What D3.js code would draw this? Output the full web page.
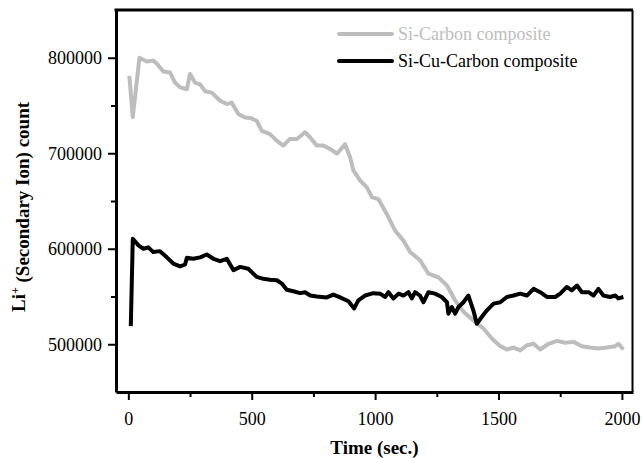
<!DOCTYPE html>
<html>
<head>
<meta charset="utf-8">
<script src="https://d3js.org/d3.v7.min.js"></script>
<style>
  body { margin: 0; background: #fff; }
  svg text { font-family: "Liberation Serif", "Times New Roman", serif; }
  .axis text { font-size: 18px; fill: #000; }
  .axis line, .axis path { stroke: #000; }
</style>
</head>
<body>
<script>
// Si-Carbon composite (grey)
var siCTime = [4, 18, 45, 75, 101, 115, 142, 169, 189, 210, 237, 250, 270, 291, 311, 338, 372, 399, 419, 446, 473, 493,
  520, 541, 574, 602, 628, 655, 683, 716, 737, 764, 790, 818, 845, 878, 899, 912, 939, 966, 987, 1013,
  1047, 1081, 1115, 1142, 1182, 1216, 1257, 1291, 1324, 1358, 1398, 1439, 1473, 1507, 1534, 1561, 1588, 1615,
  1642, 1669, 1703, 1737, 1770, 1804, 1838, 1871, 1905, 1939, 1973, 1986, 2006];
var siCCount = [781000, 738000, 800000, 796000, 797000, 794000, 785500, 784500, 774000, 769000, 767000, 783000, 774000, 772000, 765000, 763500, 755000, 751500, 753000, 741000, 737500, 737000,
  734000, 723500, 720000, 713000, 708000, 715000, 715000, 722000, 716500, 708000, 708000, 704500, 699500, 709500, 695500, 682000, 671500, 664500, 654000, 652000,
  636500, 619000, 608500, 596500, 588000, 574000, 570000, 561500, 546000, 534000, 525000, 516500, 506000, 498000, 494500, 496500, 493500, 499000,
  500500, 494500, 500500, 503500, 501500, 502500, 498000, 496500, 495500, 496500, 498000, 500500, 494500];

// Si-Cu-Carbon composite (black)
var siCuTime = [10, 18, 41, 61, 81, 101, 128, 156, 182, 210, 230, 237, 263, 291, 318, 345, 372, 399, 426, 453, 486,
  520, 547, 574, 602, 622, 642, 669, 696, 716, 737, 764, 804, 831, 858, 892, 915, 932, 959, 993, 1020,
  1041, 1054, 1074, 1095, 1115, 1135, 1149, 1162, 1182, 1196, 1216, 1243, 1270, 1291, 1297, 1311, 1324, 1338, 1358, 1378,
  1398, 1412, 1432, 1453, 1480, 1507, 1534, 1561, 1588, 1615, 1642, 1669, 1696, 1730, 1750, 1777, 1797, 1818,
  1838, 1865, 1885, 1905, 1925, 1952, 1973, 1986, 2006];
var siCuCount = [519000, 610500, 603500, 600000, 601500, 596500, 597500, 591000, 584500, 581500, 583500, 590500, 589500, 591000, 594000, 589500, 587000, 589500, 577500, 581000, 579000,
  570500, 568500, 567500, 567000, 563500, 557000, 555500, 553500, 554500, 551000, 550000, 549000, 552000, 549000, 545000, 537500, 546000, 551000, 553500, 553000,
  549500, 554500, 548000, 553000, 551000, 554500, 548000, 554500, 551000, 544000, 554500, 553000, 549500, 544000, 532000, 539000, 532000, 539000, 544000, 551000,
  535500, 521500, 528500, 535500, 542500, 544000, 549500, 551000, 553000, 551000, 558000, 554500, 549500, 549500, 553000, 560000, 556500, 561500,
  554500, 554500, 551000, 558000, 551000, 549500, 551000, 548000, 549500];

var xTicks = [0, 500, 1000, 1500, 2000];
var xMinor = [250, 750, 1250, 1750];
var yTicks = [500000, 600000, 700000, 800000];
var yMinor = [550000, 650000, 750000];
var seriesNames = ["Si-Carbon composite", "Si-Cu-Carbon composite"];
var seriesColors = ["#bdbdbd", "#000000"];

var margin = {top: 10, right: 9, bottom: 66, left: 116},
  width = 642 - margin.left - margin.right,
  height = 458 - margin.top - margin.bottom;

var svg = d3.select("body").append("svg")
  .attr("width", 642)
  .attr("height", 458);

var main = svg.append("g")
  .attr("transform", "translate(" + margin.left + "," + margin.top + ")");

var x = d3.scaleLinear().domain([-50, 2045]).range([0, width]);
var y = d3.scaleLinear().domain([450000, 850000]).range([height, 0]);

// minor ticks first
main.append("g")
  .attr("class", "axis")
  .attr("transform", "translate(0," + height + ")")
  .call(d3.axisBottom(x).tickValues(xMinor).tickSize(5).tickFormat(""))
  .call(function(g) { g.select(".domain").remove(); g.selectAll("line").attr("stroke-width", 2); });

main.append("g")
  .attr("class", "axis")
  .call(d3.axisLeft(y).tickValues(yMinor).tickSize(5).tickFormat(""))
  .call(function(g) { g.select(".domain").remove(); g.selectAll("line").attr("stroke-width", 2); });

// major axes
var xAxis = main.append("g")
  .attr("class", "axis")
  .attr("transform", "translate(0," + height + ")")
  .call(d3.axisBottom(x).tickValues(xTicks).tickSize(8).tickSizeOuter(0).tickPadding(12).tickFormat(d3.format("d")));
xAxis.attr("font-family", null).attr("font-size", null);
xAxis.select(".domain").attr("stroke-width", 3);
xAxis.selectAll("line").attr("stroke-width", 2);

var yAxis = main.append("g")
  .attr("class", "axis")
  .call(d3.axisLeft(y).tickValues(yTicks).tickSize(8).tickSizeOuter(0).tickPadding(6).tickFormat(d3.format("d")));
yAxis.attr("font-family", null).attr("font-size", null);
yAxis.select(".domain").attr("stroke-width", 3);
yAxis.selectAll("line").attr("stroke-width", 2);

// frame: top and right
main.append("line")
  .attr("x1", -1.5).attr("x2", width).attr("y1", 0).attr("y2", 0)
  .attr("stroke", "#000").attr("stroke-width", 3);
main.append("line")
  .attr("x1", width - 0.5).attr("x2", width - 0.5).attr("y1", 0).attr("y2", height)
  .attr("stroke", "#000").attr("stroke-width", 2);

var line = d3.line()
  .x(function(d) { return x(d[0]); })
  .y(function(d) { return y(d[1]); });

var seriesData = [
  d3.zip(siCTime, siCCount),
  d3.zip(siCuTime, siCuCount)
];

main.selectAll(".series")
  .data(seriesData)
  .enter().append("path")
  .attr("class", "series")
  .attr("fill", "none")
  .attr("stroke", function(d, i) { return seriesColors[i]; })
  .attr("stroke-width", 4)
  .attr("stroke-linejoin", "round")
  .attr("d", line);

// legend
var legend = main.selectAll(".legend")
  .data(seriesNames)
  .enter().append("g")
  .attr("class", "legend")
  .attr("transform", function(d, i) { return "translate(223," + (24 + i * 27) + ")"; });

legend.append("line")
  .attr("x1", 0).attr("x2", 53)
  .attr("stroke", function(d, i) { return seriesColors[i]; })
  .attr("stroke-width", 4)
  .attr("stroke-linecap", "round");

legend.append("text")
  .attr("x", 59)
  .attr("dy", "0.33em")
  .style("font-size", "18px")
  .style("fill", function(d, i) { return seriesColors[i]; })
  .text(function(d) { return d; });

// axis titles
main.append("text")
  .attr("text-anchor", "middle")
  .attr("x", width / 2)
  .attr("y", height + 62)
  .style("font-size", "19px")
  .style("font-weight", "bold")
  .text("Time (sec.)");

var yTitle = main.append("text")
  .attr("text-anchor", "middle")
  .attr("transform", "translate(" + (-91) + "," + (height / 2 + 6) + ")rotate(-90)")
  .style("font-size", "19px")
  .style("font-weight", "bold");
yTitle.append("tspan").text("Li");
yTitle.append("tspan").attr("dy", "-0.5em").style("font-size", "12px").text("+");
yTitle.append("tspan").attr("dy", "0.5em").text(" (Secondary Ion) count");
</script>
</body>
</html>
